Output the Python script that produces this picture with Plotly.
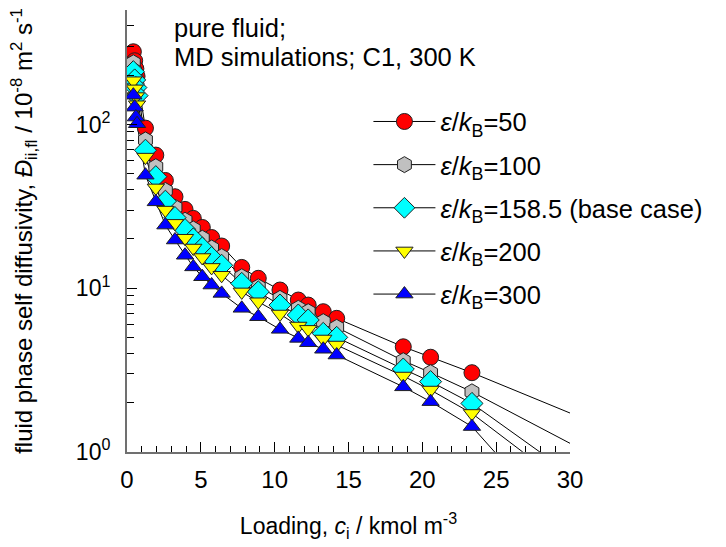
import numpy as np
import plotly.graph_objects as go

# Loadings (kmol m^-3), shared by all series
loading = [0.43, 0.52, 0.60, 0.68, 1.25, 1.95, 2.60, 3.25, 3.93, 4.49, 5.10, 5.73, 6.41,
           7.77, 8.89, 10.36, 11.60, 12.27, 13.29, 14.20, 18.71, 20.56, 23.36]

# Self diffusivities (10^-8 m2 s-1)
d_eps50 = [278, 245, 219, 197, 95, 65, 45.5, 36.2, 30.3, 26.7, 23.5, 20.4, 18.1,
           13.4, 11.5, 9.75, 8.47, 7.89, 7.19, 6.55, 4.39, 3.79, 3.05]
d_eps100 = [238, 212, 190, 170, 80.5, 55.2, 39.5, 31.2, 26.0, 23.0, 20.2, 17.6, 15.6,
            11.75, 10.2, 8.67, 7.54, 7.19, 6.25, 5.77, 3.61, 3.05, 2.33]
d_eps158 = [210, 187, 168, 150, 69.6, 48.0, 34.0, 27.0, 22.8, 20.0, 17.6, 15.4, 13.8,
            10.7, 9.5, 7.89, 6.86, 6.40, 5.30, 5.01, 3.21, 2.69, 1.98]
d_eps200 = [185, 165, 148, 132, 63.2, 41.0, 30.0, 24.9, 20.2, 17.6, 15.4, 13.4, 12.0,
            9.5, 8.27, 6.96, 5.88, 5.61, 4.90, 4.50, 2.91, 2.39, 1.72]
d_eps300 = [151, 127.6, 111, 101, 49, 33.7, 24.3, 19.7, 15.9, 13.5, 11.75, 10.46, 9.3,
            7.54, 6.7, 5.61, 4.94, 4.65, 4.24, 3.91, 2.50, 2.03, 1.43]

# End points of the fitted curves (extrapolation beyond the data)
fit_end_x = [30.0, 30.0, 27.96, 26.8, 24.9]
fit_end_y = [1.73, 1.13, 1.0, 1.0, 1.0]

series_names = ["<i>ε</i>/<i>k</i><sub>B</sub>=50",
                "<i>ε</i>/<i>k</i><sub>B</sub>=100",
                "<i>ε</i>/<i>k</i><sub>B</sub>=158.5 (base case)",
                "<i>ε</i>/<i>k</i><sub>B</sub>=200",
                "<i>ε</i>/<i>k</i><sub>B</sub>=300"]
series_data = [d_eps50, d_eps100, d_eps158, d_eps200, d_eps300]
colors = ["#FF0000", "#C0C0C0", "#00FFFF", "#FFFF00", "#0000FF"]
symbols = ["circle", "hexagon", "diamond", "triangle-down", "triangle-up"]
sizes = [16, 16, 17, 15, 15]

FONT = "Liberation Sans, Arial, sans-serif"

fig = go.Figure()

# fitted lines
for d, ex, ey in zip(series_data, fit_end_x, fit_end_y):
    fig.add_trace(go.Scatter(x=loading + [ex], y=d + [ey], mode="lines",
                             line=dict(color="black", width=1),
                             showlegend=False, hoverinfo="skip"))

# markers
for d, c, s, sz in zip(series_data, colors, symbols, sizes):
    fig.add_trace(go.Scatter(x=loading, y=d, mode="markers",
                             marker=dict(symbol=s, size=sz, color=c,
                                         line=dict(color="#202020", width=1)),
                             showlegend=False))

# legend entries
for i, (n, c, s, sz) in enumerate(zip(series_names, colors, symbols, sizes)):
    fig.add_trace(go.Scatter(x=[None], y=[None], mode="lines+markers", name=n,
                             legendgroup=f"g{i}",
                             line=dict(color="black", width=1),
                             marker=dict(symbol=s, size=sz, color=c,
                                         line=dict(color="#202020", width=1))))

minor_y = [v * 10 ** k for k in range(0, 3) for v in range(2, 10) if v * 10 ** k <= 500]

fig.update_layout(
    width=726, height=547,
    margin=dict(l=127, r=156, t=10, b=95),
    paper_bgcolor="white", plot_bgcolor="white",
    font=dict(family=FONT, size=25, color="black"),
    showlegend=True,
    legend=dict(x=0.545, y=0.80, xanchor="left", yanchor="top",
                bgcolor="rgba(0,0,0,0)", font=dict(size=25.5, family=FONT),
                itemwidth=62, tracegroupgap=7, traceorder="grouped"),
    xaxis=dict(range=[0, 30], tickmode="linear", tick0=0, dtick=5,
               ticks="inside", ticklen=10, tickcolor="black", tickwidth=1,
               minor=dict(dtick=1, ticks="inside", ticklen=6, tickcolor="black", tickwidth=1),
               showline=True, linecolor="#707070", linewidth=2,
               showgrid=False, zeroline=False, automargin=False,
               ticklabelstandoff=5,
               tickfont=dict(size=24, family=FONT),
               title=dict(text="Loading, <i>c</i><sub>i</sub> / kmol m<sup>-3</sup>",
                          font=dict(size=23, family=FONT), standoff=26)),
    yaxis=dict(type="log", range=[0, np.log10(500)],
               tickmode="array", tickvals=[1, 10, 100],
               ticktext=["10<sup>0</sup>", "10<sup>1</sup>", "10<sup>2</sup>"],
               ticks="inside", ticklen=10, tickcolor="black", tickwidth=1,
               minor=dict(tickmode="array", tickvals=minor_y, ticks="inside", ticklen=7,
                          tickcolor="black", tickwidth=1, showgrid=False),
               showline=True, linecolor="#707070", linewidth=2,
               showgrid=False, zeroline=False, automargin=False,
               ticklabelstandoff=10,
               tickfont=dict(size=23, family=FONT),
               title=dict(text="fluid phase self diffusivity, <i>Đ</i><sub>ii,fl</sub> / 10<sup>-8</sup> m<sup>2</sup> s<sup>-1</sup>",
                          font=dict(size=24, family=FONT), standoff=36)),
)
fig.add_annotation(text="pure fluid;", x=(172 - 127) / 443, y=(452 - 28) / 442,
                   xref="paper", yref="paper", xanchor="left", yanchor="middle",
                   showarrow=False, font=dict(size=25.5, family=FONT))
fig.add_annotation(text="MD simulations; C1, 300 K", x=(172 - 127) / 443, y=(452 - 57) / 442,
                   xref="paper", yref="paper", xanchor="left", yanchor="middle",
                   showarrow=False, font=dict(size=25.5, family=FONT))

fig.write_html("out.html")
